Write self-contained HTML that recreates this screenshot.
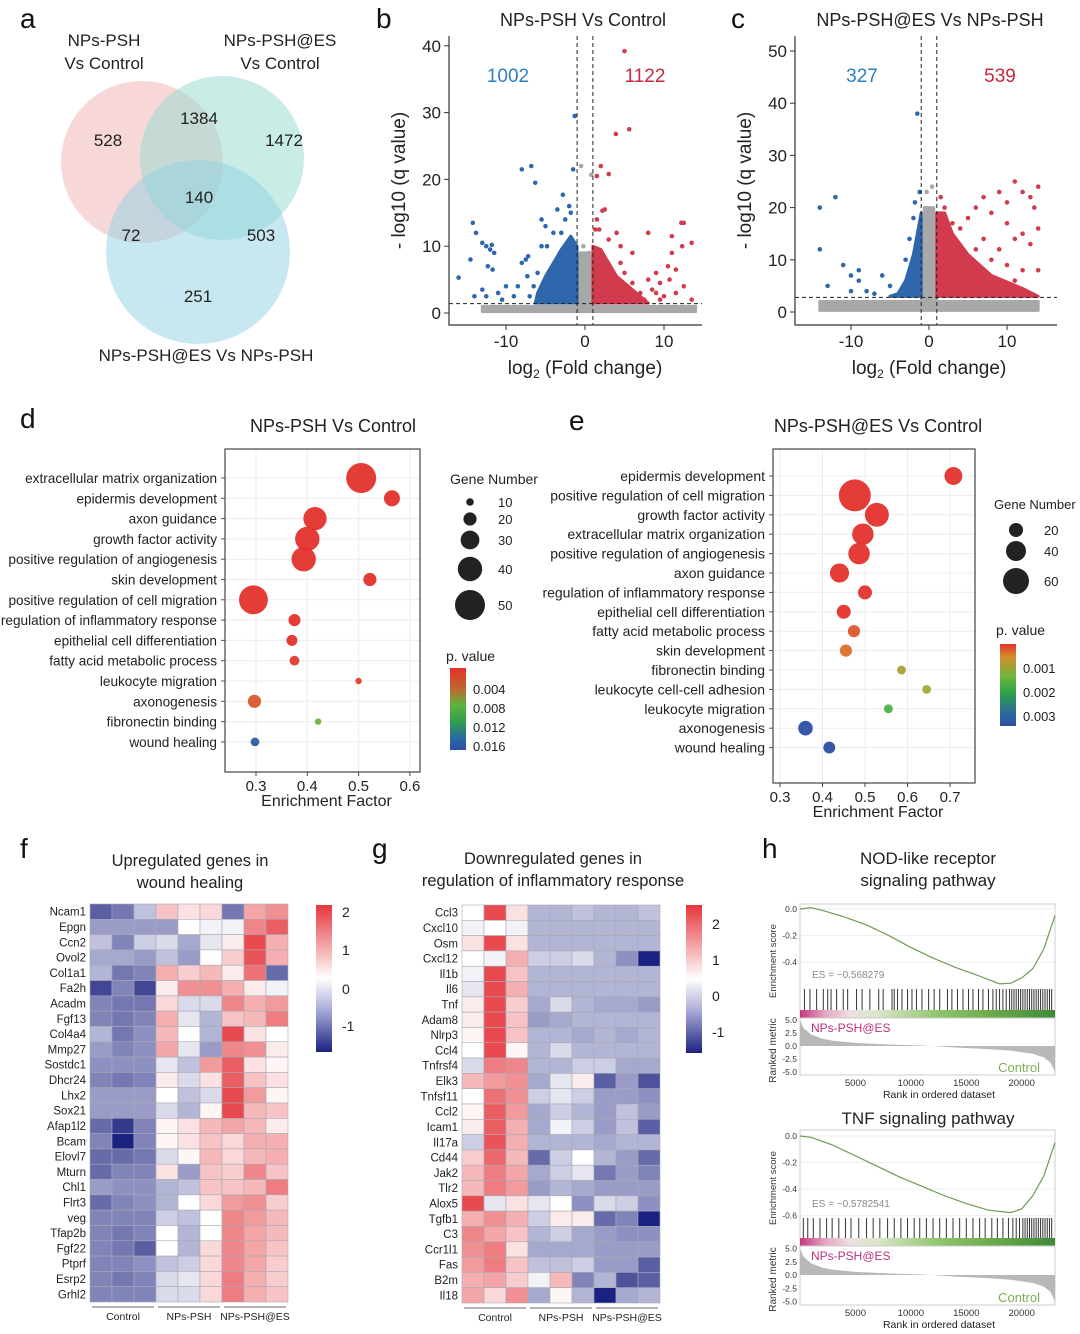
<!DOCTYPE html>
<html><head><meta charset="utf-8"><style>
html,body{margin:0;padding:0;background:#fff;}
svg{display:block;font-family:"Liberation Sans",Arial,sans-serif;}
</style></head><body>
<svg id="fig" width="1080" height="1334" viewBox="0 0 1080 1334" xmlns="http://www.w3.org/2000/svg">
<g font-size="28" fill="#111">
<text x="20" y="28">a</text>
<text x="376" y="28">b</text>
<text x="731" y="28">c</text>
<text x="20" y="428">d</text>
<text x="569" y="430">e</text>
<text x="20" y="858">f</text>
<text x="372" y="858">g</text>
<text x="762" y="858">h</text>
</g>
<g font-size="17" fill="#222">
<circle cx="142" cy="162" r="81" fill="#f2bcbc" fill-opacity="0.6"/>
<circle cx="222" cy="158" r="82" fill="#9ddcd2" fill-opacity="0.55"/>
<circle cx="198" cy="252" r="92" fill="#8fd2e2" fill-opacity="0.5"/>
<text x="104" y="46" text-anchor="middle"><tspan x="104">NPs-PSH</tspan><tspan x="104" dy="23">Vs Control</tspan></text>
<text x="280" y="46" text-anchor="middle"><tspan x="280">NPs-PSH@ES</tspan><tspan x="280" dy="23">Vs Control</tspan></text>
<text x="206" y="361" text-anchor="middle">NPs-PSH@ES Vs NPs-PSH</text>
<text x="108" y="146" text-anchor="middle">528</text>
<text x="199" y="124" text-anchor="middle">1384</text>
<text x="284" y="146" text-anchor="middle">1472</text>
<text x="199" y="203" text-anchor="middle">140</text>
<text x="131" y="241" text-anchor="middle">72</text>
<text x="261" y="241" text-anchor="middle">503</text>
<text x="198" y="302" text-anchor="middle">251</text>
</g>
<g id="root"></g>
</svg>
<script>
// ---------- DATA ----------
const volBBlueCore=[[-1,1.5],[-1,10],[-1.8,11.5],[-3,9.5],[-4,7.5],[-5,5.5],[-6,3],[-6.3,1.5]];
const volBRedCore=[[1,1.5],[1,10],[2,9.5],[3,7.5],[4,5.5],[6,3.5],[8,1.5]];
const volBGreyCore=[[-13,0.2],[-13,1],[-1,1],[-0.6,9],[0.6,9],[1,1],[14,1],[14,0.2]];
const volBBlue=[[-14.2,13.5],[-13.8,12],[-13,10.5],[-12.5,10],[-12,9.5],[-11.5,9],[-11.8,10.2],[-14.5,8],[-16,5.3],[-12.3,7],[-11.7,6.5],[-10,4],[-13,3.5],[-11,3],[-12.5,2.5],[-8,21.5],[-6.8,22],[-6.3,19.5],[-7.5,8],[-8,7.5],[-7.2,8.5],[-5.5,14],[-5,13],[-4,12],[-3.5,15.5],[-2.8,17.7],[-2,16],[-1.8,15],[-2.5,14],[-5.5,10],[-4.8,10],[-3,12],[-1.5,21.5],[-1.3,29.5],[-7.3,5.5],[-6,6],[-8.5,4],[-9,2.5],[-10.5,2],[-14,2.5],[-6.5,4],[-7,2.5]];
const volBRed=[[5,39.2],[5.6,27.5],[3.9,26.8],[1.5,20.5],[2,22],[3,20.8],[2.5,15.5],[1.5,14],[1.8,12.5],[3,11],[4,12],[4.5,10],[6,9],[8,12],[12.2,13.5],[12.5,13.5],[11,11.5],[13.5,10.5],[12.3,10],[11,9],[10.5,7],[9,6],[8,5],[9.5,4.5],[10.7,5],[12.5,4],[9,3],[10,2.5],[11.5,3],[13.5,2],[7,3],[6,4.5],[5,6],[4.5,7.5],[11.5,6.5],[8.5,3.5],[2.2,15.3],[1.3,12.5],[7.5,2],[9.5,2]];
const volBGrey=[[-0.5,22],[0.8,20.7],[-0.2,10],[0.5,9]];
const volBCounts=["1002","1122"];
const volCBlueCore=[[-1,3],[-1,19],[-2,11],[-3,6],[-4,3.5],[-5,3]];
const volCRedCore=[[1,3],[1,19],[2,19],[3,15],[5,11],[8,7],[12,4.5],[14,3]];
const volCGreyCore=[[-14,0.3],[-14,2],[-1,2],[-0.6,20],[0.6,20],[1,2],[14,2],[14,0.3]];
const volCBlue=[[-1.5,38],[-1.2,23],[-1.8,21],[-2,18],[-12,22],[-14,20],[-14,12],[-11,9],[-10,7],[-9,6],[-6,7],[-5,5],[-7,3.5],[-8,4],[-9,8],[-2.5,14],[-3,10],[-13,5],[-10,4]];
const volCRed=[[1.5,22],[2,20],[3,17],[5,18],[6,20],[7,22],[8,19],[9,23],[10,21],[11,25],[12,23],[13,22],[14,24],[10,17],[11,14],[13,13],[14,16],[7,14],[9,12],[12,15],[6,12],[4,16],[13.5,20],[10,9],[12,8],[8,10],[11,6],[14,8]];
const volCGrey=[[0.4,24],[-0.3,23]];
const volCCounts=["327","539"];
const dTerms=["extracellular matrix organization","epidermis development","axon guidance","growth factor activity","positive regulation of angiogenesis","skin development","positive regulation of cell migration","regulation of inflammatory response","epithelial cell differentiation","fatty acid metabolic process","leukocyte migration","axonogenesis","fibronectin binding","wound healing"];
const dEF=[0.505,0.565,0.415,0.4,0.393,0.522,0.295,0.375,0.37,0.375,0.5,0.297,0.421,0.298];
const dGenes=[50,25,38,40,40,20,48,18,16,14,8,20,8,12];
const dP=[0.001,0.001,0.001,0.001,0.001,0.001,0.001,0.0012,0.0012,0.002,0.0025,0.004,0.009,0.016];
const dXTicks=[0.3,0.4,0.5,0.6];
const dSizeLegend=[10,20,30,40,50];
const dPTicks=["0.004","0.008","0.012","0.016"];
const eTerms=["epidermis development","positive regulation of cell migration","growth factor activity","extracellular matrix organization","positive regulation of angiogenesis","axon guidance","regulation of inflammatory response","epithelial cell differentiation","fatty acid metabolic process","skin development","fibronectin binding","leukocyte cell-cell adhesion","leukocyte migration","axonogenesis","wound healing"];
const eEF=[0.708,0.476,0.528,0.495,0.486,0.44,0.5,0.45,0.474,0.455,0.586,0.645,0.555,0.36,0.416];
const eGenes=[33,80,53,45,45,37,20,20,14,14,3,3,3,22,13];
const eP=[0.0003,0.0003,0.0003,0.0003,0.0003,0.0004,0.0004,0.0005,0.0009,0.0012,0.0017,0.0018,0.0022,0.0034,0.0034];
const eXTicks=[0.3,0.4,0.5,0.6,0.7];
const eSizeLegend=[20,40,60];
const ePTicks=["0.001","0.002","0.003"];
const fGenes=["Ncam1","Epgn","Ccn2","Ovol2","Col1a1","Fa2h","Acadm","Fgf13","Col4a4","Mmp27","Sostdc1","Dhcr24","Lhx2","Sox21","Afap1l2","Bcam","Elovl7","Mturn","Chl1","Flrt3","veg","Tfap2b","Fgf22","Ptprf","Esrp2","Grhl2"];
const fVals=[
[-1.3,-1.1,-0.5,0.6,0.3,0.4,-1.1,0.9,1.1],[-0.8,-0.8,-0.8,-0.8,0,-0.1,-0.1,1.2,1.6],[-0.5,-1,-0.4,-0.3,-0.7,-0.2,0.2,1.8,0.8],[-0.7,-0.7,-0.8,-0.5,-0.8,0,0.5,1.7,0.8],[-0.6,-1.1,-1,0.8,0.5,0.7,0.2,1.4,-1.2],[-1.5,-1,-1.5,0.2,1.1,1.1,0.8,0.2,-0.1],[-1,-1.1,-1.1,0.4,-0.3,-0.3,1.2,0.8,1],[-1,-1.1,-1,0.8,-0.2,-0.6,0.6,0.7,1.3],[-0.6,-1.1,-0.9,0.7,0,-0.6,1.8,0.3,0],[-0.8,-1,-0.9,0.9,-0.2,-0.8,1.2,1.1,0.2],[-0.9,-0.9,-0.9,-0.2,-0.5,1,1.6,0.3,0.1],[-1,-1.1,-1,0.2,-0.3,0.3,1.6,0.6,0.3],[-0.8,-0.8,-0.8,0,-0.5,-0.3,1.8,1,0.1],[-0.8,-0.8,-0.8,-0.3,-0.6,0.1,1.8,0.7,0.6],[-1.2,-1.6,-1,0.1,0.3,0.7,0.9,0.7,0.2],[-1,-2,-1,0.1,0.3,0.6,0.4,0.8,0.8],[-1.2,-1.2,-1.1,-0.3,0.1,0.7,0.4,0.7,0.8],[-1.2,-1,-1,0.3,-0.8,0.6,0.5,1.2,0.6],[-0.8,-0.9,-0.9,-0.6,-0.5,0.6,0.6,0.7,1.3],[-1.2,-1,-0.9,-0.6,0,0.4,1,1.1,0.5],[-1,-1,-1,-0.4,-0.5,0,1.2,1,0.7],[-1,-1.1,-1,0,-0.6,0,1.2,0.9,0.7],[-1,-1.1,-1.3,0,-0.6,0.4,1.2,0.9,0.6],[-1,-1,-0.9,-0.5,-0.4,0.4,1.2,0.9,0.5],[-1,-1.1,-1,-0.3,-0.2,0.4,1.3,0.8,0.5],[-1,-1,-1,-0.3,-0.3,0.4,1.3,0.8,0.6]];
const fTicks=[2,1,0,-1];
const gGenes=["Ccl3","Cxcl10","Osm","Cxcl12","Il1b","Il6","Tnf","Adam8","Nlrp3","Ccl4","Tnfrsf4","Elk3","Tnfsf11","Ccl2","Icam1","Il17a","Cd44","Jak2","Tlr2","Alox5","Tgfb1","C3","Ccr1l1","Fas","B2m","Il18"];
const gVals=[
[0,1.8,0.3,-0.6,-0.6,-0.5,-0.6,-0.6,-0.5],[-0.1,0,-0.1,-0.6,-0.6,-0.6,-0.6,-0.6,-0.6],[0.3,1.8,0.3,-0.6,-0.6,-0.6,-0.6,-0.6,-0.6],[0,-0.1,0.8,-0.4,-0.4,-0.3,-0.6,-0.9,-2],[-0.1,1.8,0.6,-0.6,-0.6,-0.6,-0.6,-0.6,-0.6],[-0.2,1.8,0.8,-0.6,-0.6,-0.6,-0.6,-0.6,-0.6],[0.2,1.8,0.5,-0.7,-0.3,-0.6,-0.7,-0.7,-0.8],[0.2,1.8,0.6,-0.8,-0.7,-0.6,-0.6,-0.6,-0.6],[0.1,1.8,0.6,-0.6,-0.6,-0.7,-0.6,-0.7,-0.6],[0,1.8,0.1,-0.6,-0.3,-0.6,-0.6,-0.6,-0.6],[-0.3,1.3,1.2,-0.6,-0.6,-0.4,-0.4,-0.7,-0.7],[0.7,1,1.1,-0.7,-0.2,0.2,-1.3,-0.8,-1.4],[0,1.4,1.1,-0.4,-0.2,-0.4,-0.8,-0.8,-0.9],[0.1,1.6,1,-0.7,-0.4,-0.6,-0.8,-0.5,-0.8],[0.2,1.6,0.8,-0.7,-0.1,-0.4,-0.8,-0.5,-1.3],[-0.4,1.7,0.8,-0.6,-0.6,-0.6,-0.7,-0.6,-0.6],[0.5,1.5,0.7,-1.2,-0.4,0,-0.6,-0.8,-1.2],[0.7,1.3,0.9,-0.7,-0.4,-0.2,-1.1,-0.8,-1],[0.7,1.3,1,-0.8,-0.6,-0.7,-0.8,-0.8,-0.8],[1.8,-0.2,0.3,-0.2,0,-0.9,-0.3,-0.4,-0.9],[0.8,1.1,0.8,-0.4,0.2,0.2,-1.2,-1,-1.8],[1.2,0.9,0.6,-0.6,-0.4,-0.7,-0.8,-0.9,-0.9],[1.1,1.3,0.3,-0.7,-0.7,-0.7,-0.8,-0.8,-0.8],[1,1.3,0.6,-0.5,-0.5,-0.4,-0.8,-0.8,-1.3],[0.8,0.9,0.5,-0.1,0.7,-1,-0.6,-1.4,-1.3],[0.9,0.4,1.1,-0.7,0.1,-0.6,-1.9,-0.7,-0.6]];
const gTicks=[2,1,0,-1];
const groups=["Control","NPs-PSH","NPs-PSH@ES"];
const gsea1Rank=[0,1000,2000,4000,6000,8000,10000,12000,14000,16000,18000,19000,20000,21000,22000,23000];
const gsea1ES=[0,0.01,-0.01,-0.06,-0.12,-0.2,-0.29,-0.37,-0.44,-0.5,-0.565,-0.56,-0.52,-0.45,-0.3,-0.05];
const gsea1Hits=[400,900,1500,2100,2500,2800,3300,3900,4300,5100,5600,6300,7100,7500,8300,8500,8800,9200,9700,10100,10500,11000,11600,12100,12600,13300,13700,14200,14700,15200,15600,16100,16500,17000,17400,17700,18000,18300,18600,18900,19100,19300,19500,19700,19900,20100,20300,20500,20700,20900,21100,21300,21500,21700,21900,22100,22300,22500,22700];
const gsea2Rank=[0,1000,3000,5000,7000,9000,11000,13000,15000,17000,19000,20000,21000,22000,23000];
const gsea2ES=[0,-0.01,-0.07,-0.15,-0.23,-0.31,-0.38,-0.45,-0.51,-0.56,-0.578,-0.55,-0.45,-0.3,-0.05];
const gsea2Hits=[300,700,1200,1800,2400,2900,3500,4100,4600,5300,6000,6600,7200,7900,8500,9100,9700,10300,10800,11400,12000,12600,13200,13800,14400,15000,15600,16200,16700,17300,17800,18300,18800,19200,19500,19800,20100,20300,20500,20700,20900,21100,21300,21500,21700,21900,22100,22300,22500,22700];
const metricRank=[0,300,1000,2000,3000,5000,8000,11000,12000,14000,17000,19000,21000,22000,22600,23000];
const metricVal=[5,3.5,2.2,1.4,1,0.6,0.3,0.1,0,-0.3,-0.6,-0.9,-1.5,-2.2,-3.2,-5];
const gseaXTicks=[5000,10000,15000,20000];

// ---------- HELPERS ----------
const NS="http://www.w3.org/2000/svg";
const root=document.getElementById('root');
function mk(tag,attrs,parent){const e=document.createElementNS(NS,tag);for(const k in attrs)e.setAttribute(k,attrs[k]);(parent||root).appendChild(e);return e;}
function txt(x,y,s,size,anchor,fill,parent){const e=mk('text',{x:x,y:y,'font-size':size,'text-anchor':anchor||'start',fill:fill||'#222'},parent);e.textContent=s;return e;}
function lerpHex(a,b,t){const pa=[1,3,5].map(i=>parseInt(a.substr(i,2),16)),pb=[1,3,5].map(i=>parseInt(b.substr(i,2),16));return 'rgb('+pa.map((v,i)=>Math.round(v+(pb[i]-v)*t)).join(',')+')';}
function ramp(stops,v){if(v<=stops[0][0])return stops[0][1];for(let i=1;i<stops.length;i++){if(v<=stops[i][0]){const t=(v-stops[i-1][0])/(stops[i][0]-stops[i-1][0]);return lerpHex(stops[i-1][1],stops[i][1],t);}}return stops[stops.length-1][1];}

// ---------- VOLCANO ----------
function volcano(cfg){
  const g=mk('g',{});
  
  
  const sx=v=>cfg.x0+v*cfg.kx, sy=v=>cfg.y0-v*cfg.ky;
  const poly=(pts,fill,nm)=>{const p=mk('polygon',{points:pts.map(q=>sx(q[0])+','+sy(q[1])).join(' '),fill:fill,stroke:fill,'stroke-width':3,'stroke-linejoin':'round'},g);
    
    };
  poly(cfg.greyCore,'#a8a8a8',cfg.name+'-grey-cluster');
  poly(cfg.blueCore,'#2f67ad',cfg.name+'-down-cluster');
  poly(cfg.redCore,'#d23a4e',cfg.name+'-up-cluster');
  const pts=(arr,fill,nm)=>arr.forEach(q=>{const c=mk('circle',{cx:sx(q[0]),cy:sy(q[1]),r:2.3,fill:fill},g);
    
    });
  pts(cfg.grey,'#a8a8a8',cfg.name+'-ns-point');pts(cfg.blue,'#2f67ad',cfg.name+'-down-point');pts(cfg.red,'#d23a4e',cfg.name+'-up-point');
  [-1,1].forEach(v=>{const l=mk('line',{x1:sx(v),x2:sx(v),y1:cfg.top,y2:cfg.bottom,stroke:'#222','stroke-dasharray':'4,3','stroke-width':1},g);
    
    });
  const h=mk('line',{x1:cfg.left,x2:cfg.right,y1:sy(cfg.qthr),y2:sy(cfg.qthr),stroke:'#222','stroke-dasharray':'4,3','stroke-width':1},g);
  
  
  const ax=mk('path',{d:`M${cfg.left} ${cfg.top}V${cfg.bottom}H${cfg.right}`,fill:'none',stroke:'#333','stroke-width':1.2},g);
  
  
  cfg.yticks.forEach(v=>{mk('line',{x1:cfg.left-5,x2:cfg.left,y1:sy(v),y2:sy(v),stroke:'#333'},g);
    const t=txt(cfg.left-8,sy(v)+6,String(v),17,'end','#222',g);
    
    });
  [-10,0,10].forEach(v=>{mk('line',{x1:sx(v),x2:sx(v),y1:cfg.bottom,y2:cfg.bottom+5,stroke:'#333'},g);
    const t=txt(sx(v),cfg.bottom+22,String(v),17,'middle','#222',g);
    
    });
  const tt=txt(cfg.titleX,26,cfg.title,18,'middle','#222',g);
  
  
  const c1=txt(cfg.cx1,82,cfg.counts[0],19,'middle','#2f7fc1',g);
  
  
  const c2=txt(cfg.cx2,82,cfg.counts[1],19,'middle','#c8283f',g);
  
  
  const xl=mk('text',{x:cfg.x0,y:374,'font-size':19,'text-anchor':'middle',fill:'#222'},g);
  xl.innerHTML='log<tspan font-size="12" dy="4">2</tspan><tspan dy="-4"> (Fold change)</tspan>';
  
  
  const yl=txt(0,0,'- log10 (q value)',19,'middle','#222',g);
  yl.setAttribute('transform',`translate(${cfg.left-44},${(cfg.top+cfg.bottom)/2}) rotate(-90)`);
  
  
}
volcano({name:'volcano-b',x0:585,kx:7.9,y0:313,ky:6.68,left:449,right:702,top:36,bottom:325,qthr:1.4,yticks:[0,10,20,30,40],
 blueCore:volBBlueCore,redCore:volBRedCore,greyCore:volBGreyCore,blue:volBBlue,red:volBRed,grey:volBGrey,counts:volBCounts,title:'NPs-PSH Vs Control',titleX:583,cx1:508,cx2:645});
volcano({name:'volcano-c',x0:929,kx:7.8,y0:312,ky:5.22,left:795,right:1057,top:36,bottom:325,qthr:2.8,yticks:[0,10,20,30,40,50],
 blueCore:volCBlueCore,redCore:volCRedCore,greyCore:volCGreyCore,blue:volCBlue,red:volCRed,grey:volCGrey,counts:volCCounts,title:'NPs-PSH@ES Vs NPs-PSH',titleX:930,cx1:862,cx2:1000});

// ---------- DOT PLOTS ----------
const dStops=[[0.0012,'#e3312b'],[0.004,'#d9582d'],[0.0075,'#a9b83c'],[0.0105,'#3eae48'],[0.0135,'#2a8a8a'],[0.017,'#2b4fa6']];
const eStops=[[0.0005,'#e3312b'],[0.0013,'#d77a2a'],[0.0018,'#a6a83a'],[0.0022,'#4cb24a'],[0.0028,'#2a8a8a'],[0.0034,'#2b4fa6']];
function dotplot(cfg){
  const g=mk('g',{});
  
  
  const sx=v=>cfg.xa+(v-0.3)*cfg.kx, sy=i=>cfg.row0+i*cfg.step;
  cfg.xticks.forEach(v=>{const l=mk('line',{x1:sx(v),x2:sx(v),y1:cfg.top,y2:cfg.bottom,stroke:'#ececec'},g);
    
    });
  cfg.terms.forEach((t,i)=>{mk('line',{x1:cfg.left,x2:cfg.right,y1:sy(i),y2:sy(i),stroke:'#ececec'},g);
    mk('line',{x1:cfg.left-4,x2:cfg.left,y1:sy(i),y2:sy(i),stroke:'#555'},g);
    const e=txt(cfg.left-8,sy(i)+5,t,cfg.fs,'end','#222',g);
    
    });
  const b=mk('rect',{x:cfg.left,y:cfg.top,width:cfg.right-cfg.left,height:cfg.bottom-cfg.top,fill:'none',stroke:'#444','stroke-width':1.2},g);
  
  
  cfg.terms.forEach((t,i)=>{const c=mk('circle',{cx:sx(cfg.ef[i]),cy:sy(i),r:cfg.rad(cfg.genes[i]),fill:ramp(cfg.stops,cfg.p[i]),'fill-opacity':0.95},g);
    
    });
  cfg.xticks.forEach(v=>{mk('line',{x1:sx(v),x2:sx(v),y1:cfg.bottom,y2:cfg.bottom+4,stroke:'#444'},g);
    const e=txt(sx(v),cfg.bottom+19,String(v),15,'middle','#222',g);
    
    });
  const xt=txt((cfg.left+cfg.right)/2+4,cfg.bottom+34,'Enrichment Factor',16,'middle','#222',g);
  
  
  const tt=txt(cfg.titleX,432,cfg.title,18,'middle','#222',g);
  
  
  const gl=txt(cfg.lgX,cfg.lgY,'Gene Number',cfg.lgFs,'start','#222',g);
  
  
  cfg.sizes.forEach((n,i)=>{const c=mk('circle',{cx:cfg.lcx,cy:cfg.lys[i],r:cfg.rad(n),fill:'#222'},g);
    
    
    const t=txt(cfg.lcx+28,cfg.lys[i]+5,String(n),13,'start','#222',g);
    
    });
  const pl=txt(cfg.pX,cfg.pY,'p. value',14,'start','#222',g);
  
  
  const gid='grad-'+cfg.name;
  const lg=mk('linearGradient',{id:gid,x1:0,y1:0,x2:0,y2:1},g);
  cfg.barStops.forEach(s=>mk('stop',{offset:s[0],'stop-color':s[1]},lg));
  const cb=mk('rect',{x:cfg.bx,y:cfg.by,width:16,height:cfg.bh,fill:`url(#${gid})`},g);
  
  
  cfg.pticks.forEach((s,i)=>{const t=txt(cfg.bx+23,cfg.ptY[i]+5,s,13,'start','#222',g);
    
    });
}
dotplot({name:'dotplot-d',terms:dTerms,ef:dEF,genes:dGenes,p:dP,stops:dStops,xticks:dXTicks,xa:256,kx:513,row0:478,step:20.3,left:225,right:420,top:449,bottom:772,fs:13.6,
 rad:n=>1+0.28*n,titleX:333,title:'NPs-PSH Vs Control',lgX:450,lgY:484,lgFs:14,lcx:470,lys:[502,519,540,569,605],sizes:dSizeLegend,
 pX:446,pY:661,bx:450,by:668,bh:82,pticks:dPTicks,ptY:[689,708,727,746],barStops:[[0,'#e3312b'],[0.25,'#c0662d'],[0.45,'#5db43c'],[0.65,'#2ea04a'],[0.85,'#2a6aa0'],[1,'#2b4fa6']]});
dotplot({name:'dotplot-e',terms:eTerms,ef:eEF,genes:eGenes,p:eP,stops:eStops,xticks:eXTicks,xa:780,kx:425,row0:476,step:19.4,left:773,right:975,top:449,bottom:783,fs:14,
 rad:n=>4+0.15*n,titleX:878,title:'NPs-PSH@ES Vs Control',lgX:994,lgY:509,lgFs:13,lcx:1016,lys:[530,551,581],sizes:eSizeLegend,
 pX:996,pY:635,bx:1000,by:644,bh:82,pticks:ePTicks,ptY:[668,692,716],barStops:[[0,'#e3312b'],[0.15,'#d78a2a'],[0.4,'#6cb83c'],[0.6,'#2ea04a'],[0.85,'#2a6aa0'],[1,'#2b4fa6']]});

// ---------- HEATMAPS ----------
function heatColor(v){return v>=0?lerpHex('#ffffff','#e5363b',Math.min(v/2,1)):lerpHex('#ffffff','#1b2180',Math.min(-v/1.8,1));}
function heatmap(cfg){
  const g=mk('g',{});
  
  
  const cw=(cfg.x1-cfg.x0)/9, ch=(cfg.y1-cfg.y0)/cfg.genes.length;
  cfg.vals.forEach((row,i)=>{row.forEach((v,j)=>{const r=mk('rect',{x:cfg.x0+j*cw,y:cfg.y0+i*ch,width:cw,height:ch,fill:heatColor(v),stroke:'#a9a9b5','stroke-width':0.6},g);
      
      });
    const t=txt(cfg.x0-4,cfg.y0+i*ch+ch/2+4,cfg.genes[i],11.5,'end','#222',g);
    
    });
  groups.forEach((s,k)=>{const xa=cfg.x0+k*3*cw+2, xb=cfg.x0+(k+1)*3*cw-2;
    mk('line',{x1:xa,x2:xb,y1:cfg.y1+5,y2:cfg.y1+5,stroke:'#888','stroke-width':1.2},g);
    const t=txt((xa+xb)/2,cfg.y1+18,s,10.5,'middle','#222',g);
    
    });
  cfg.title.forEach((s,k)=>{const t=txt(cfg.tx,cfg.ty+k*22,s,16.5,'middle','#222',g);
    
    });
  const gid='hg-'+cfg.name;
  const lg=mk('linearGradient',{id:gid,x1:0,y1:0,x2:0,y2:1},g);
  [[0,'#e5363b'],[0.5,'#ffffff'],[0.72,'#a6a9d6'],[1,'#1b2180']].forEach(s=>mk('stop',{offset:s[0],'stop-color':s[1]},lg));
  const cb=mk('rect',{x:cfg.bx,y:cfg.by,width:16,height:cfg.bh,fill:`url(#${gid})`},g);
  
  
  cfg.ticks.forEach((v,k)=>{const t=txt(cfg.bx+26,cfg.tY[k]+5,String(v),14,'start','#222',g);
    
    });
}
heatmap({name:'heatmap-f',genes:fGenes,vals:fVals,x0:90,x1:288,y0:904,y1:1302,title:['Upregulated genes in','wound healing'],tx:190,ty:866,bx:316,by:905,bh:147,ticks:fTicks,tY:[912,950,989,1026]});
heatmap({name:'heatmap-g',genes:gGenes,vals:gVals,x0:462,x1:660,y0:905,y1:1303,title:['Downregulated genes in','regulation of inflammatory response'],tx:553,ty:864,bx:686,by:905,bh:148,ticks:gTicks,tY:[924,960,996,1032]});

// ---------- GSEA ----------
function gsea(cfg){
  const g=mk('g',{});
  
  
  const L=800,R=1055,sx=r=>L+r/23000*(R-L);
  const ey=v=>cfg.es0+(-v/0.2)*cfg.esk;
  cfg.title.forEach((s,k)=>{const t=txt(928,cfg.ty+k*22,s,17,'middle','#222',g);
    
    });
  mk('rect',{x:L,y:cfg.esTop,width:R-L,height:cfg.hitBot-cfg.esTop,fill:'none',stroke:'#ccc'},g);
  cfg.esTicks.forEach(v=>{mk('line',{x1:L,x2:R,y1:ey(v),y2:ey(v),stroke:'#eee'},g);
    const t=txt(L-3,ey(v)+3,v.toFixed(1),8.5,'end','#333',g);
    
    });
  const ln=mk('polyline',{points:cfg.rank.map((r,i)=>sx(r)+','+ey(cfg.es[i])).join(' '),fill:'none',stroke:'#6f9a56','stroke-width':1.2},g);
  
  
  const es=txt(812,cfg.esLabelY,cfg.esLabel,10,'start','#888',g);
  
  
  cfg.hits.forEach(h=>{const l=mk('line',{x1:sx(h),x2:sx(h),y1:cfg.hitTop,y2:cfg.hitBot-8,stroke:'#333','stroke-width':1},g);
    
    });
  const gid='gs-'+cfg.name;
  const lg=mk('linearGradient',{id:gid,x1:0,y1:0,x2:1,y2:0},g);
  [[0,'#c23a7e'],[0.1,'#e7a6c4'],[0.2,'#ece0e0'],[0.3,'#dbe6c9'],[0.55,'#8dc46a'],[0.75,'#6cab4c'],[1,'#3f8a3a']].forEach(s=>mk('stop',{offset:s[0],'stop-color':s[1]},lg));
  const bar=mk('rect',{x:L,y:cfg.hitBot-8,width:R-L,height:8,fill:`url(#${gid})`},g);
  
  
  const my=v=>cfg.m0-v*cfg.mk;
  mk('rect',{x:L,y:cfg.hitBot,width:R-L,height:cfg.mBot-cfg.hitBot,fill:'none',stroke:'#ccc'},g);
  const area=mk('polygon',{points:[sx(0)+','+my(0)].concat(metricRank.map((r,i)=>sx(r)+','+my(metricVal[i]))).concat([sx(23000)+','+my(0)]).join(' '),fill:'#b8b8b8'},g);
  
  
  [5,2.5,0,-2.5,-5].forEach(v=>{const t=txt(L-3,my(v)+3,v.toFixed(1),8.5,'end','#333',g);
    
    });
  const a=txt(811,cfg.hitBot+14,'NPs-PSH@ES',12,'start','#c0307a',g);
  
  
  const b=txt(1040,cfg.mBot-3,'Control',13,'end','#7cae55',g);
  
  
  gseaXTicks.forEach(v=>{const t=txt(sx(v),cfg.mBot+11,String(v),9.5,'middle','#333',g);
    
    });
  const xt=txt(939,cfg.mBot+23,'Rank in ordered dataset',10.5,'middle','#222',g);
  
  
  const y1=txt(0,0,'Enrichment score',9.5,'middle','#333',g);
  y1.setAttribute('transform',`translate(776,${(cfg.esTop+cfg.hitBot)/2}) rotate(-90)`);
  
  
  const y2=txt(0,0,'Ranked metric',10,'middle','#333',g);
  y2.setAttribute('transform',`translate(776,${(cfg.hitBot+cfg.mBot)/2+4}) rotate(-90)`);
  
  
}
gsea({name:'gsea-nod-like',title:['NOD-like receptor','signaling pathway'],ty:864,rank:gsea1Rank,es:gsea1ES,hits:gsea1Hits,esTop:904,es0:909,esk:26.5,esTicks:[0,-0.2,-0.4],
 esLabel:'ES = \u22120.568279',esLabelY:978,hitTop:989,hitBot:1018,m0:1046,mk:5.2,mBot:1075});
gsea({name:'gsea-tnf',title:['TNF signaling pathway'],ty:1124,rank:gsea2Rank,es:gsea2ES,hits:gsea2Hits,esTop:1130,es0:1136,esk:26.5,esTicks:[0,-0.2,-0.4,-0.6],
 esLabel:'ES = \u22120.5782541',esLabelY:1207,hitTop:1218,hitBot:1246,m0:1275,mk:5.3,mBot:1305});
</script>
</body></html>
